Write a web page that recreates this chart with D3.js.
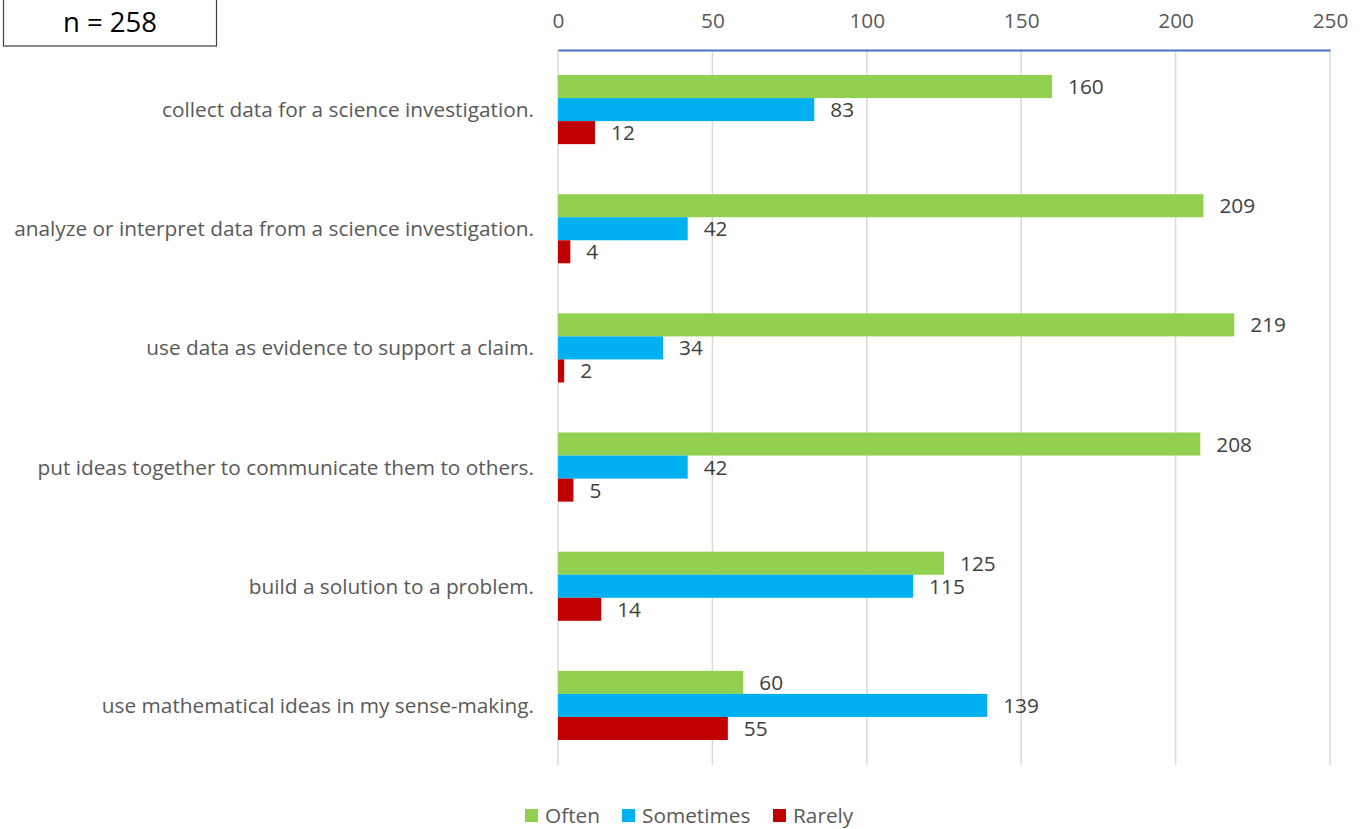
<!DOCTYPE html>
<html><head><meta charset="utf-8">
<script src="https://cdn.jsdelivr.net/npm/d3@7"></script>
<style>
body{margin:0;background:#fff;}
text{font-family:"Open Sans",sans-serif;}
</style></head>
<body><svg id="c" width="1362" height="829"></svg>
<script>
const categories = [
  "collect data for a science investigation.",
  "analyze or interpret data from a science investigation.",
  "use data as evidence to support a claim.",
  "put ideas together to communicate them to others.",
  "build a solution to a problem.",
  "use mathematical ideas in my sense-making."
];
const seriesNames = ["Often","Sometimes","Rarely"];
const often = [160,209,219,208,125,60];
const sometimes = [83,42,34,42,115,139];
const rarely = [12,4,2,5,14,55];
const tickValues = [0,50,100,150,200,250];
const colors = ["#92D050","#00B0F0","#C00000"];
const sampleLabel = "n = 258";

const FONT = "'Open Sans',sans-serif";
const FS = 20.8;
const svg = d3.select("#c");
const x = d3.scaleLinear().domain([0,250]).range([558,1330]);
const y = d3.scaleBand().domain(categories).range([50,765]).paddingInner(0.42).paddingOuter(0.21);
const yi = d3.scaleBand().domain(seriesNames).range([0,y.bandwidth()]);
const series = [often,sometimes,rarely];

// gridlines
svg.append("g").selectAll("line").data(tickValues).join("line")
  .attr("x1",d=>x(d)).attr("x2",d=>x(d)).attr("y1",50).attr("y2",765)
  .attr("stroke","#d9d9d9").attr("stroke-width",1.5);

// top axis
const ax = svg.append("g").attr("transform","translate(0,50)")
  .call(d3.axisTop(x).tickValues(tickValues).tickSize(0).tickPadding(22));
ax.select(".domain").attr("stroke","#4472C4").attr("stroke-width",2);
ax.selectAll("text").attr("font-size",FS).attr("fill","#595959").attr("font-family",FONT);

// bars
categories.forEach((c,i)=>{
  const g = svg.append("g").attr("transform",`translate(0,${y(c)})`);
  seriesNames.forEach((s,j)=>{
    const v = series[j][i];
    g.append("rect").attr("x",x(0)).attr("y",yi(s))
      .attr("width",x(v)-x(0)).attr("height",yi.bandwidth()).attr("fill",colors[j]);
    g.append("text").attr("x",x(v)+16).attr("y",yi(s)+yi.bandwidth()/2)
      .attr("dy","0.36em").attr("font-size",FS).attr("fill","#404040").text(v);
  });
});

// category labels
svg.append("g").selectAll("text").data(categories).join("text")
  .attr("x",534).attr("y",d=>y(d)+y.bandwidth()/2).attr("dy","0.36em")
  .attr("text-anchor","end").attr("font-size",FS).attr("fill","#595959").text(d=>d);

// legend
const leg = svg.append("g");
const legX = [525,622,773];
seriesNames.forEach((s,j)=>{
  leg.append("rect").attr("x",legX[j]).attr("y",809).attr("width",13).attr("height",13).attr("fill",colors[j]);
  leg.append("text").attr("x",legX[j]+20).attr("y",816).attr("dy","0.36em")
    .attr("font-size",FS).attr("fill","#595959").text(s);
});

// n box
svg.append("rect").attr("x",3.5).attr("y",-1).attr("width",213).attr("height",47)
  .attr("fill","#fff").attr("stroke","#404040").attr("stroke-width",1.2);
svg.append("text").attr("x",110).attr("y",22).attr("dy","0.36em").attr("text-anchor","middle")
  .attr("font-size",27.5).attr("fill","#000").text(sampleLabel);
</script></body></html>
